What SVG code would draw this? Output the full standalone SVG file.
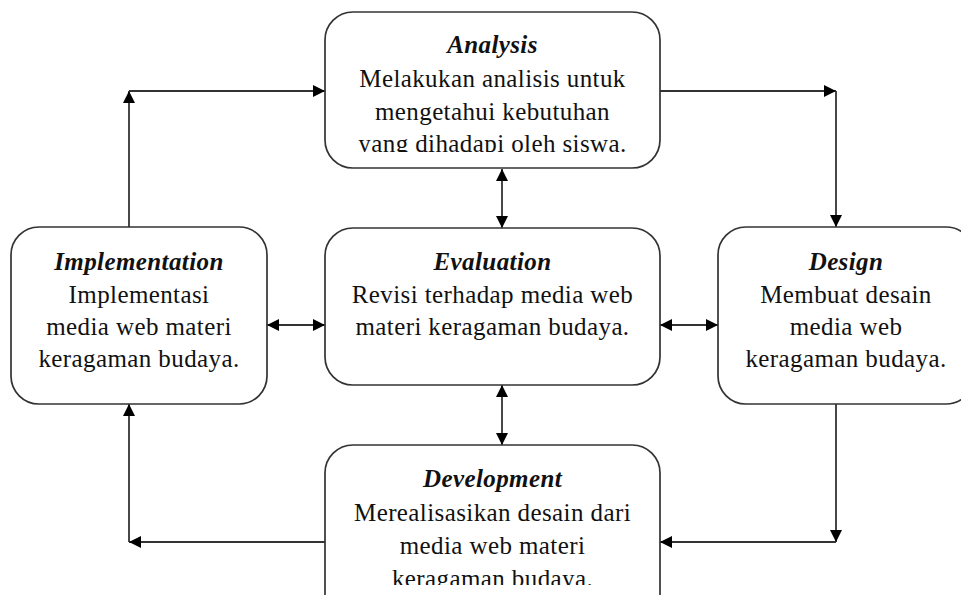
<svg xmlns="http://www.w3.org/2000/svg" width="961" height="595" viewBox="0 0 961 595">
<style>
.box{fill:#fff;stroke:#333;stroke-width:1.7}
.t{font-family:"Liberation Serif","Times New Roman",serif;font-size:25px;fill:#111;text-anchor:middle;letter-spacing:0.4px}
.h{font-weight:bold;font-style:italic}
.c{fill:none;stroke:#333;stroke-width:1.8}
</style>
<defs>
<marker id="ah" viewBox="0 0 12 12" refX="12" refY="6" markerWidth="12" markerHeight="12" markerUnits="userSpaceOnUse" orient="auto-start-reverse">
<path d="M0,0 L12,6 L0,12 Z" fill="#000"/>
</marker>
<clipPath id="clipA"><rect x="325" y="12" width="336" height="140"/></clipPath>
<clipPath id="clipD"><rect x="325" y="445" width="336" height="140"/></clipPath>
</defs>
<rect width="961" height="595" fill="#fff"/>
<g id="connectors">
<path class="c" d="M129,227 V91" marker-end="url(#ah)"/>
<path class="c" d="M129,91 H325" marker-end="url(#ah)"/>
<path class="c" d="M659,91 H836" marker-end="url(#ah)"/>
<path class="c" d="M836,91 V227" marker-end="url(#ah)"/>
<path class="c" d="M836,404 V542" marker-end="url(#ah)"/>
<path class="c" d="M836,542 H660" marker-end="url(#ah)"/>
<path class="c" d="M325,542 H129" marker-end="url(#ah)"/>
<path class="c" d="M129,542 V404" marker-end="url(#ah)"/>
<path class="c" d="M502,169 V228" marker-start="url(#ah)" marker-end="url(#ah)"/>
<path class="c" d="M502,385 V445" marker-start="url(#ah)" marker-end="url(#ah)"/>
<path class="c" d="M267,325 H325" marker-start="url(#ah)" marker-end="url(#ah)"/>
<path class="c" d="M660,325 H718" marker-start="url(#ah)" marker-end="url(#ah)"/>
</g>
<g id="analysis">
<rect class="box" x="325" y="12" width="335" height="156" rx="28"/>
<g clip-path="url(#clipA)">
<text class="t h" x="492.5" y="53">Analysis</text>
<text class="t" x="492.5" y="87">Melakukan analisis untuk</text>
<text class="t" x="492.5" y="120">mengetahui kebutuhan</text>
<text class="t" x="492.5" y="152">yang dihadapi oleh siswa.</text>
</g>
</g>
<g id="evaluation">
<rect class="box" x="325" y="228" width="335" height="157" rx="28"/>
<text class="t h" x="492.5" y="270">Evaluation</text>
<text class="t" x="492.5" y="303">Revisi terhadap media web</text>
<text class="t" x="492.5" y="335">materi keragaman budaya.</text>
</g>
<g id="implementation">
<rect class="box" x="11" y="227" width="256" height="177" rx="28"/>
<text class="t h" x="139" y="270">Implementation</text>
<text class="t" x="139" y="303">Implementasi</text>
<text class="t" x="139" y="335">media web materi</text>
<text class="t" x="139" y="367">keragaman budaya.</text>
</g>
<g id="design">
<rect class="box" x="718" y="227" width="256" height="177" rx="28"/>
<text class="t h" x="846" y="270">Design</text>
<text class="t" x="846" y="303">Membuat desain</text>
<text class="t" x="846" y="335">media web</text>
<text class="t" x="846" y="367">keragaman budaya.</text>
</g>
<g id="development">
<rect class="box" x="325" y="445" width="335" height="177" rx="28"/>
<g clip-path="url(#clipD)">
<text class="t h" x="492.5" y="487">Development</text>
<text class="t" x="492.5" y="521">Merealisasikan desain dari</text>
<text class="t" x="492.5" y="554">media web materi</text>
<text class="t" x="492.5" y="587">keragaman budaya.</text>
</g>
</g>
</svg>
